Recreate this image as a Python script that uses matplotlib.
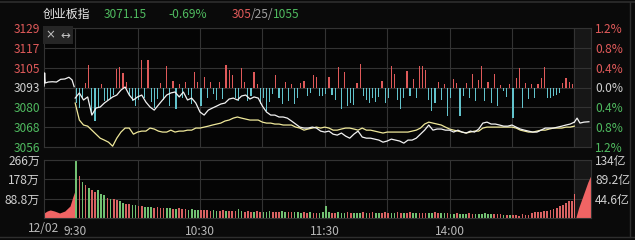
import numpy as np
import matplotlib.pyplot as plt
from matplotlib.lines import Line2D

plt.rcParams['font.family'] = ['Noto Sans CJK SC', 'DejaVu Sans']

# ---- data ----
prev_close = 3092.5
pct_levels = [1.2, 0.8, 0.4, 0.0, -0.4, -0.8, -1.2]
price_labels = ['3129', '3117', '3105', '3093', '3080', '3068', '3056']
pct_labels = ['1.2%', '0.8%', '0.4%', '0.0%', '0.4%', '0.8%', '1.2%']
vol_levels = [88.8, 178, 266]
vol_labels = ['88.8万', '178万', '266万']
amt_labels = ['44.6亿', '89.2亿', '134亿']
time_ticks = [15, 75, 135, 195]          # minutes after 9:15
time_labels = ['9:30', '10:30', '11:30', '14:00']
grid_times = [15, 45, 75, 105, 135, 165, 195, 225, 255]

# call auction 9:15-9:30
pre_t = [0, 0.3, 0.6, 2, 4, 6, 8, 10, 12, 13.5, 14.5]
pre_price = [3093.4, 3101.6, 3095.3, 3095.9, 3096.1, 3095.9, 3097.6, 3097.8, 3098.9, 3097.2, 3093.0]

# index price, 2-minute steps from 9:30 to 15:00
price = [3085.9, 3089.1, 3084.7, 3086.6, 3075.3, 3079.7, 3080.3, 3082.8, 3084.7, 3086.6,
         3087.8, 3090.9, 3092.8, 3087.8, 3084.7, 3086.6, 3087.8, 3083.4, 3080.3, 3078.4,
         3081.6, 3084.7, 3087.8, 3089.1, 3089.7, 3086.6, 3089.7, 3084.7, 3085.9, 3082.8,
         3077.2, 3075.3, 3078.4, 3079.7, 3080.9, 3082.2, 3082.8, 3085.3, 3085.9, 3084.7,
         3087.2, 3087.8, 3085.3, 3086.6, 3085.9, 3080.9, 3077.2, 3075.3, 3075.3, 3074.1,
         3074.1, 3073.4, 3071.6, 3069.7, 3067.8, 3067.2, 3067.2, 3067.8, 3067.2, 3065.3,
         3064.7, 3065.3, 3063.4, 3062.8, 3064.1, 3062.2, 3060.9, 3063.4, 3065.3, 3061.6,
         3060.9, 3060.9, 3060.3, 3059.7, 3058.4, 3059.1, 3060.3, 3059.7, 3059.1, 3057.8,
         3059.7, 3059.7, 3060.9, 3063.4, 3065.9, 3069.1, 3065.9, 3066.6, 3066.6, 3065.9,
         3065.9, 3064.7, 3065.9, 3064.7, 3064.1, 3065.3, 3064.7, 3066.6, 3070.3, 3070.9,
         3069.7, 3069.7, 3069.1, 3068.4, 3068.4, 3069.1, 3067.8, 3066.6, 3065.9, 3065.3,
         3064.7, 3064.7, 3065.9, 3067.2, 3067.2, 3067.2, 3067.8, 3068.4, 3069.1, 3069.7,
         3070.9]

# average price line
avg_price = [3082.8, 3072.2, 3069.1, 3068.4, 3065.9, 3063.4, 3060.9, 3059.7, 3058.4, 3055.9,
             3060.9, 3064.7, 3067.2, 3067.2, 3063.4, 3064.7, 3065.3, 3065.3, 3067.2, 3066.6,
             3065.3, 3064.7, 3064.7, 3065.9, 3064.7, 3065.3, 3065.3, 3065.9, 3065.9, 3067.2,
             3067.2, 3067.8, 3068.4, 3069.1, 3069.7, 3070.3, 3071.6, 3072.2, 3073.4, 3074.1,
             3073.4, 3072.8, 3072.2, 3072.2, 3072.2, 3070.9, 3070.3, 3070.3, 3069.7, 3069.7,
             3069.1, 3069.1, 3069.1, 3067.8, 3067.2, 3065.9, 3066.6, 3067.2, 3067.8, 3067.2,
             3067.8, 3067.2, 3065.9, 3065.9, 3066.6, 3067.2, 3067.2, 3066.6, 3065.9, 3067.2,
             3065.9, 3065.9, 3065.3, 3064.7, 3064.1, 3064.7, 3064.7, 3064.7, 3064.7, 3064.7,
             3064.7, 3065.3, 3065.9, 3067.2, 3069.7, 3070.9, 3070.3, 3069.7, 3069.1, 3067.8,
             3066.6, 3065.9, 3065.3, 3064.7, 3064.1, 3064.7, 3065.3, 3065.3, 3067.2, 3067.8,
             3067.8, 3067.8, 3067.8, 3067.8, 3067.8, 3067.8, 3067.2, 3065.9, 3065.3, 3064.7,
             3064.7, 3065.3, 3065.9, 3065.9, 3066.6, 3067.2, 3067.2, 3067.2, 3067.8, 3067.8,
             3068.4]

# after-hours
post_t = [256.3, 257.7, 259.6, 262]
post_price = [3073.4, 3070.3, 3070.9, 3071.15]

# buy/sell strength bars, 1.5-minute steps from 9:30
force = [-15, -20, -10, 4, 22, -25, -33, -20, 3, -13,
         -12, -10, -7, 18, 20, 14, 5, -8, -13, -18,
         -12, 27, -10, 27, -14, -20, -11, 4, -12, 21,
         -18, 6, -21, 3, -10, 5, -7, -16, 15, 5,
         -18, 10, -10, 5, -6, -12, 5, -11, 22, 17,
         12, -10, -13, 19, 5, -13, -8, 15, 3, -16,
         -10, -23, -14, -6, 12, -10, -16, 5, -13, 3,
         -16, -10, 4, 6, -8, -5, 12, 10, -8, -8,
         -6, 10, -7, -12, 20, -21, 15, -18, -15, -17,
         4, 23, -8, -12, -15, -10, -14, -9, 6, -15,
         -10, 21, 13, -12, -21, -10, 16, -8, 8, -10,
         21, 21, 17, -12, -23, -15, 5, -12, 3, -28,
         -10, 8, 4, -28, -8, 4, -10, 13, -13, 7,
         21, -13, 5, -15, 13, -18, 2, -3, -9, 3,
         -30, 9, 19, -20, 4, -11, 3, -10, 3, 9,
         20, -10, -10, -8, -7, -5, 4, 9, 5, 3]

# volume (万), same steps as force
vol = [266, 193, 165, 151, 138, 128, 119, 128, 110, 105,
       92, 87, 87, 83, 78, 69, 64, 64, 60, 60,
       55, 55, 50, 50, 50, 46, 50, 46, 46, 46,
       46, 41, 41, 46, 41, 41, 37, 41, 37, 37,
       37, 37, 37, 32, 37, 32, 32, 37, 32, 32,
       32, 32, 41, 32, 28, 32, 28, 28, 32, 28,
       28, 28, 32, 28, 28, 28, 32, 28, 28, 28,
       28, 28, 23, 28, 23, 28, 23, 23, 23, 28,
       55, 28, 23, 23, 28, 23, 23, 28, 23, 23,
       23, 23, 28, 23, 23, 28, 23, 23, 23, 28,
       23, 23, 23, 28, 23, 23, 23, 28, 23, 23,
       23, 23, 23, 23, 23, 28, 23, 23, 23, 23,
       18, 18, 23, 18, 18, 18, 23, 18, 18, 18,
       18, 23, 18, 18, 18, 18, 18, 14, 14, 14,
       14, 14, 9, 18, 14, 14, 23, 28, 28, 28,
       32, 32, 37, 41, 46, 55, 60, 69, 78, 78]
vol_side = ("grgrgrrgggrgrrggrrgg" "rrgggrrrrggrgrrrgggg" "rrrrggrrgrrrggrrrgrr"
            "gggrrrggrrgggrrgrrgg" "ggrrgggrrgggrgrrggrr" "rggrrgrrggrrrggrrggr"
            "ggrgggrrggggggrrrgrg" "rrrrrrrrrrrrrrrrrrrr")

pre_vol_t = [0, 1.5, 3, 5, 7.5, 10, 12.5, 14, 15]
pre_vol = [23, 32, 37, 32, 23, 32, 55, 101, 128]
close_t, close_vol = 255, 110
post_vol_t = [255.8, 257, 258.5, 260, 261.5, 263]
post_vol = [5, 45, 85, 125, 165, 197]

# ---- colours ----
BG = '#0a0a0a'
GRID = '#333333'
RED = '#e05a5a'
GREEN = '#4fba5f'
CYAN = '#62c3cc'
LABEL = '#d0d0d0'

t_main = 15 + 2 * np.arange(len(price))
t_bar = 15.5 + 1.5 * np.arange(len(force))

W, H = 635, 240
def rect(l, t, r, b):
    return [l / W, 1 - b / H, (r - l) / W, (b - t) / H]

fig = plt.figure(figsize=(6.35, 2.4), dpi=100, facecolor=BG)
fs = 8.6

# ---------- price panel ----------
ax = fig.add_axes(rect(44, 28, 591, 147))
ax.set_facecolor('#050505')
lo, hi = prev_close * (1 - 0.012), prev_close * (1 + 0.012)
ax.set_xlim(0, 263)
ax.set_ylim(lo, hi)
ax.axvspan(255, 263, color='#171717', zorder=0)
for lv in pct_levels:
    ax.axhline(prev_close * (1 + lv / 100), color=GRID, lw=0.8, zorder=1)
for gt in grid_times:
    ax.axvline(gt, color=GRID, lw=0.8, zorder=1)

f = np.array(force) * 0.625
ax.bar(t_bar, f, bottom=prev_close, width=0.55,
       color=[RED if v > 0 else CYAN for v in f], zorder=2, linewidth=0)
ax.plot(t_main, avg_price, color='#efe89a', lw=0.9, zorder=3)
ax.plot(pre_t, pre_price, color='#f2f2f2', lw=0.9, zorder=4)
ax.plot(t_main, price, color='#f2f2f2', lw=0.9, zorder=4)
ax.plot([t_main[-1]] + post_t, [price[-1]] + post_price, color='#f2f2f2', lw=0.9, zorder=4)

lab_colors = [RED, RED, RED, LABEL, GREEN, GREEN, GREEN]
yt = [prev_close * (1 + lv / 100) for lv in pct_levels]
ax.set_yticks(yt)
ax.set_yticklabels(price_labels, fontsize=fs)
for lab, c in zip(ax.get_yticklabels(), lab_colors):
    lab.set_color(c)
ax.set_xticks([])
ax.tick_params(axis='y', length=0, pad=3)
for s in ax.spines.values():
    s.set_color(GRID)

ax2 = ax.twinx()
ax2.set_ylim(lo, hi)
ax2.set_yticks(yt)
ax2.set_yticklabels(pct_labels, fontsize=fs)
for lab, c in zip(ax2.get_yticklabels(), lab_colors):
    lab.set_color(c)
ax2.tick_params(axis='y', length=0, pad=3)
for s in ax2.spines.values():
    s.set_visible(False)

# ---------- volume panel ----------
axv = fig.add_axes(rect(44, 160, 591, 218))
axv.set_facecolor('#050505')
axv.set_xlim(0, 263)
axv.set_ylim(0, 266)
axv.axvspan(255, 263, color='#171717', zorder=0)
for lv in vol_levels:
    axv.axhline(lv, color=GRID, lw=0.8, zorder=1)
for gt in grid_times:
    axv.axvline(gt, color=GRID, lw=0.8, zorder=1)
axv.fill_between(pre_vol_t, 0, pre_vol, color='#f06464', lw=0, zorder=2)
axv.bar(t_bar, vol, width=0.8,
        color=['#d86262' if s == 'r' else '#72c072' for s in vol_side], lw=0, zorder=2)
axv.bar([close_t], [close_vol], width=0.8, color='#e86a6a', lw=0, zorder=2)
axv.fill_between(post_vol_t, 0, post_vol, color='#f06464', lw=0, zorder=2)

axv.set_yticks(vol_levels)
axv.set_yticklabels(vol_labels, fontsize=fs, color=LABEL)
axv.set_xticks(time_ticks)
axv.set_xticklabels(time_labels, fontsize=fs, color='#b8b8b8')
axv.tick_params(length=0, pad=3)
axv.tick_params(axis='x', pad=5)
for s in axv.spines.values():
    s.set_color(GRID)
axv2 = axv.twinx()
axv2.set_ylim(0, 266)
axv2.set_yticks(vol_levels)
axv2.set_yticklabels(amt_labels, fontsize=fs, color=LABEL)
axv2.tick_params(length=0, pad=3)
for s in axv2.spines.values():
    s.set_visible(False)
fig.text(59 / W, 1 - 229 / H, '12/02', fontsize=fs, color='#b8b8b8', ha='right', va='center')

# ---------- header ----------
hy = 1 - 14 / H
fig.text(43 / W, hy, '创业板指', fontsize=fs, color='#e8e8e8', va='center')
fig.text(104 / W, hy, '3071.15', fontsize=fs, color=GREEN, va='center')
fig.text(168 / W, hy, '-0.69%', fontsize=fs, color=GREEN, va='center')
fig.text(232 / W, hy, '305', fontsize=fs, color=RED, va='center')
fig.text(251 / W, hy, '/25/', fontsize=fs, color='#a0a0a0', va='center')
fig.text(273 / W, hy, '1055', fontsize=fs, color=GREEN, va='center')

# small tool icons
for cx, s in [(50.5, '×'), (65, '↔')]:
    fig.text(cx / W, 1 - 35 / H, s, fontsize=8.5, color='#c0c0c0', ha='center', va='center',
             family=['DejaVu Sans'],
             bbox=dict(boxstyle='square,pad=0.25', fc='#262626', ec='none'))

# frame lines
fig.add_artist(Line2D([0, 1], [1 - 2 / H, 1 - 2 / H], color='#2e2e2e', lw=1.2))
fig.add_artist(Line2D([0, 1], [1 - 237 / H, 1 - 237 / H], color='#2e2e2e', lw=1))
fig.add_artist(Line2D([630 / W, 630 / W], [1 - 237 / H, 1 - 2 / H], color='#2e2e2e', lw=1))

fig.savefig('out.png', dpi=100, facecolor=fig.get_facecolor())
